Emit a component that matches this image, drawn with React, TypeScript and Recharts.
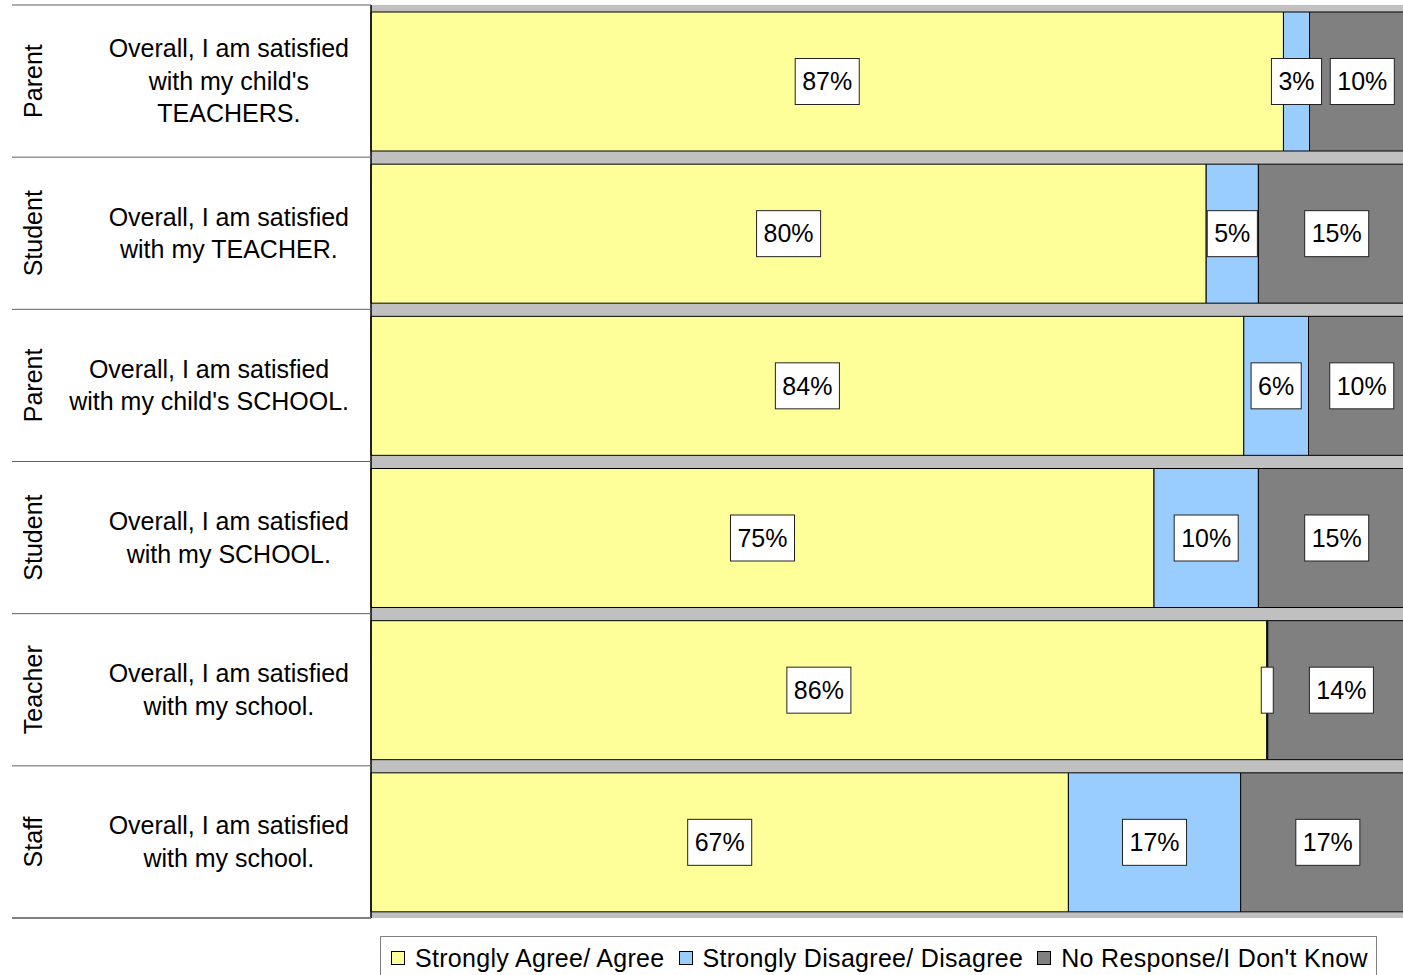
import React from 'react';
import { BarChart, Bar, XAxis, YAxis, CartesianGrid, LabelList } from 'recharts';

const groups = ['Parent', 'Student', 'Parent', 'Student', 'Teacher', 'Staff'];
const questions = [
  ['Overall, I am satisfied', "with my child's", 'TEACHERS.'],
  ['Overall, I am satisfied', 'with my TEACHER.'],
  ['Overall, I am satisfied', "with my child's SCHOOL."],
  ['Overall, I am satisfied', 'with my SCHOOL.'],
  ['Overall, I am satisfied', 'with my school.'],
  ['Overall, I am satisfied', 'with my school.'],
];
const agree = [87.4, 80.0, 83.6, 75.0, 85.8, 66.8];
const disagree = [2.5, 5.0, 6.2, 10.0, 0.1, 16.5];
const noResponse = [10.1, 15.0, 10.2, 15.0, 14.1, 16.7];
const agreeLabels = ['87%', '80%', '84%', '75%', '86%', '67%'];
const disagreeLabels = ['3%', '5%', '6%', '10%', '', '17%'];
const noResponseLabels = ['10%', '15%', '10%', '15%', '14%', '17%'];
const seriesNames = ['Strongly Agree/ Agree', 'Strongly Disagree/ Disagree', "No Response/I Don't Know"];
const seriesColors = ['#FFFF99', '#99CCFF', '#808080'];

const FONT = '"Liberation Sans", Arial, sans-serif';
const CHART_W = 1415;
const CHART_H = 975;
const M_TOP = 5;
const M_BOTTOM = 57;
const AXIS_W = 371;
const ROW_H = (CHART_H - M_TOP - M_BOTTOM) / groups.length;

const data = groups.map((g, i) => ({
  name: `${g}: ${questions[i].join(' ')}`,
  agree: agree[i],
  disagree: disagree[i],
  noResponse: noResponse[i],
  agreeLabel: agreeLabels[i],
  disagreeLabel: disagreeLabels[i],
  noResponseLabel: noResponseLabels[i],
}));

let ctx: CanvasRenderingContext2D | null = null;
const textWidth = (s: string) => {
  if (!ctx) ctx = document.createElement('canvas').getContext('2d');
  if (!ctx) return s.length * 12;
  ctx.font = `25px ${FONT}`;
  return ctx.measureText(s).width;
};

const CategoryTick = ({ y, payload }: any) => {
  const idx = data.findIndex(d => d.name === payload.value);
  if (idx < 0) return null;
  const lines = questions[idx];
  const blockW = Math.max(...lines.map(textWidth));
  const cx = 349 - blockW / 2;
  const lh = 32.5;
  const top = y - ((lines.length - 1) * lh) / 2;
  const last = idx === groups.length - 1;
  return (
    <g>
      <line x1={12} x2={AXIS_W} y1={y - ROW_H / 2} y2={y - ROW_H / 2} stroke="#606060" strokeWidth={1} />
      {last && (
        <line x1={12} x2={AXIS_W} y1={y + ROW_H / 2} y2={y + ROW_H / 2} stroke="#808080" strokeWidth={2} />
      )}
      <text
        transform={`translate(33, ${y}) rotate(-90)`}
        textAnchor="middle"
        dominantBaseline="central"
        fontSize={25}
        fontFamily={FONT}
        fill="#000"
      >
        {groups[idx]}
      </text>
      <text textAnchor="middle" fontSize={25} fontFamily={FONT} fill="#000">
        {lines.map((l, i) => (
          <tspan key={i} x={cx} y={top + i * lh} dy="0.35em">
            {l}
          </tspan>
        ))}
      </text>
    </g>
  );
};

// value is the label string (LabelList dataKey points at the *Label field)
const BoxLabel = (props: any) => {
  const vb = props.viewBox || props;
  const { x, y, width, height } = vb;
  const txt = props.value ?? '';
  const w = txt ? textWidth(txt) + 14 : 12;
  const h = 46;
  const cx = x + width / 2;
  const cy = y + height / 2;
  return (
    <g>
      <rect x={cx - w / 2} y={cy - h / 2} width={w} height={h} fill="#fff" stroke="#222" strokeWidth={1} />
      {txt && (
        <text x={cx} y={cy} dy="0.35em" textAnchor="middle" fontSize={25} fontFamily={FONT} fill="#000">
          {txt}
        </text>
      )}
    </g>
  );
};

export default function App() {
  return (
    <div
      style={{
        position: 'absolute',
        left: 0,
        top: 0,
        width: 1403,
        height: 975,
        overflow: 'hidden',
        background: '#fff',
        fontFamily: FONT,
      }}
    >
      <BarChart
        width={CHART_W}
        height={CHART_H}
        data={data}
        layout="vertical"
        margin={{ top: M_TOP, right: 0, bottom: M_BOTTOM, left: 0 }}
        barSize={139}
      >
        <CartesianGrid fill="#C0C0C0" horizontal={false} vertical={false} />
        <XAxis type="number" domain={[0, 100]} hide />
        <YAxis
          type="category"
          dataKey="name"
          width={AXIS_W}
          axisLine={{ stroke: '#000', strokeWidth: 1.5 }}
          tickLine={false}
          interval={0}
          tick={<CategoryTick />}
        />
        <Bar dataKey="agree" stackId="a" fill={seriesColors[0]} stroke="#000" strokeWidth={1} isAnimationActive={false}>
          <LabelList dataKey="agreeLabel" content={<BoxLabel />} />
        </Bar>
        <Bar dataKey="disagree" stackId="a" fill={seriesColors[1]} stroke="#000" strokeWidth={1} isAnimationActive={false}>
          <LabelList dataKey="disagreeLabel" content={<BoxLabel />} />
        </Bar>
        <Bar dataKey="noResponse" stackId="a" fill={seriesColors[2]} stroke="#000" strokeWidth={1} isAnimationActive={false}>
          <LabelList dataKey="noResponseLabel" content={<BoxLabel />} />
        </Bar>
      </BarChart>
      <div
        style={{
          position: 'absolute',
          left: 380,
          top: 936,
          width: 997,
          height: 44,
          border: '1px solid #808080',
          boxSizing: 'border-box',
          display: 'flex',
          alignItems: 'center',
          paddingLeft: 10,
          fontSize: 25,
          letterSpacing: 0.3,
          color: '#000',
          whiteSpace: 'nowrap',
        }}
      >
        {seriesNames.map((n, i) => (
          <span key={n} style={{ display: 'flex', alignItems: 'center', marginRight: 14 }}>
            <span
              style={{
                display: 'inline-block',
                width: 12,
                height: 12,
                background: seriesColors[i],
                border: '1px solid #000',
                marginRight: 10,
              }}
            />
            {n}
          </span>
        ))}
      </div>
    </div>
  );
}
